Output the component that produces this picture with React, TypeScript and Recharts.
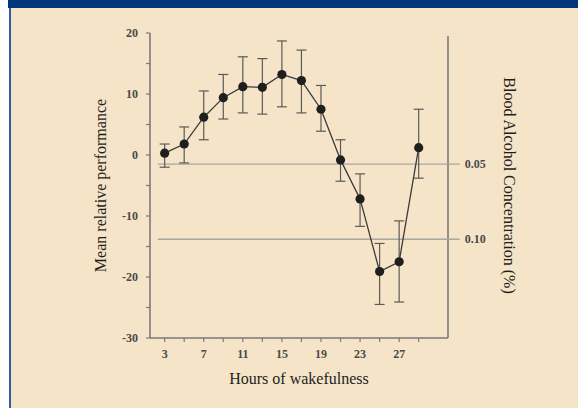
import React from "react";
import {
  ComposedChart,
  Line,
  XAxis,
  YAxis,
  ErrorBar,
  ReferenceLine,
} from "recharts";

// ─── Data ─────────────────────────────────────────────────────────────────────

const hours = [3, 5, 7, 9, 11, 13, 15, 17, 19, 21, 23, 25, 27, 29];
const means = [0.3, 1.8, 6.2, 9.4, 11.2, 11.1, 13.2, 12.2, 7.5, -0.8, -7.2, -19.1, -17.5, 1.2];
const lower = [-2.0, -1.3, 2.5, 5.9, 6.9, 6.7, 7.9, 6.9, 3.9, -4.3, -11.7, -24.5, -24.1, -3.8];
const upper = [1.8, 4.6, 10.5, 13.2, 16.1, 15.8, 18.7, 17.2, 11.4, 2.5, -3.1, -14.5, -10.8, 7.5];

const xTicks = [3, 5, 7, 9, 11, 13, 15, 17, 19, 21, 23, 25, 27, 29];
const xLabelled = [3, 7, 11, 15, 19, 23, 27];
const yTicks = [-30, -25, -20, -15, -10, -5, 0, 5, 10, 15, 20];

// blood alcohol equivalents drawn as horizontal lines
const bacLabels = ["0.05", "0.10"];
const bacLevels = [-1.5, -13.8];

// ─── Constants ────────────────────────────────────────────────────────────────

const FONT = "'Liberation Serif', 'DejaVu Serif', serif";
const AXIS = "#7a7a7a";
const BEIGE = "#f5e4c7";
const TICK = { fontSize: 12, fontWeight: 700, fill: "#4a4a4a", fontFamily: FONT };

const data = hours.map((h, i) => ({
  hour: h,
  mean: means[i],
  err: [means[i] - lower[i], upper[i] - means[i]],
}));

function Dot(props: any) {
  const { cx, cy } = props;
  if (cx == null || cy == null) return null;
  return <circle cx={cx} cy={cy} r={4.6} fill="#1f1f1f" />;
}

export default function App() {
  return (
    <div
      style={{
        position: "absolute",
        left: 0,
        top: 0,
        width: 578,
        height: 408,
        background: "#ffffff",
        overflow: "hidden",
      }}
    >
      {/* dark top band */}
      <div style={{ position: "absolute", left: 8, top: 0, width: 570, height: 8, background: "#00377a" }} />
      {/* left border line */}
      <div style={{ position: "absolute", left: 9, top: 8, width: 2, height: 400, background: "#2d5e9e" }} />
      {/* panel */}
      <div style={{ position: "absolute", left: 11, top: 8, width: 567, height: 400, background: BEIGE }} />

      <div style={{ position: "absolute", left: 0, top: 0 }}>
        <ComposedChart
          width={578}
          height={408}
          data={data}
          margin={{ top: 33, right: 6, left: 0, bottom: 0 }}
          style={{ fontFamily: FONT }}
        >
          <XAxis
            dataKey="hour"
            type="number"
            domain={[1.5, 32]}
            ticks={xTicks}
            tickFormatter={(v: number) => (xLabelled.includes(v) ? String(v) : "")}
            height={70}
            tickSize={4}
            tickMargin={7}
            axisLine={{ stroke: AXIS, strokeWidth: 1.6 }}
            tickLine={{ stroke: AXIS, strokeWidth: 1.2 }}
            tick={TICK}
            label={{
              value: "Hours of wakefulness",
              position: "center",
              dy: 5,
              style: { fontSize: 16, fill: "#1e1e1e", fontFamily: FONT },
            }}
          />
          <YAxis
            yAxisId="left"
            type="number"
            domain={[-30, 20]}
            ticks={yTicks}
            tickFormatter={(v: number) => (v % 10 === 0 ? String(v) : "")}
            width={150}
            tickSize={4}
            tickMargin={8}
            axisLine={{ stroke: AXIS, strokeWidth: 1.6 }}
            tickLine={{ stroke: AXIS, strokeWidth: 1.2 }}
            tick={TICK}
            label={{
              value: "Mean relative performance",
              angle: -90,
              position: "center",
              dx: 25,
              style: { fontSize: 16, fill: "#1e1e1e", fontFamily: FONT, textAnchor: "middle" },
            }}
          />
          <YAxis
            yAxisId="right"
            orientation="right"
            domain={[-30, 20]}
            width={124}
            tick={false}
            tickLine={false}
            axisLine={false}
            label={{
              value: "Blood Alcohol Concentration (%)",
              angle: 90,
              position: "center",
              style: { fontSize: 16, fill: "#1e1e1e", fontFamily: FONT, textAnchor: "middle" },
            }}
          />

          {/* right frame line */}
          <ReferenceLine
            yAxisId="left"
            segment={[
              { x: 32, y: -30 },
              { x: 32, y: 19.5 },
            ]}
            stroke={AXIS}
            strokeWidth={1.6}
            ifOverflow="visible"
          />

          {bacLevels.map((lvl, i) => (
            <ReferenceLine
              key={bacLabels[i]}
              yAxisId="left"
              segment={[
                { x: 2.3, y: lvl },
                { x: 33.2, y: lvl },
              ]}
              stroke="#a8a8a0"
              strokeWidth={1.4}
              ifOverflow="visible"
              label={{
                value: bacLabels[i],
                position: "right",
                offset: 5,
                style: TICK,
              }}
            />
          ))}

          <Line
            yAxisId="left"
            type="linear"
            dataKey="mean"
            stroke="#3a3a3a"
            strokeWidth={1.3}
            dot={<Dot />}
            activeDot={false}
            isAnimationActive={false}
          >
            <ErrorBar
              dataKey="err"
              direction="y"
              width={5}
              stroke="#5a5a5a"
              strokeWidth={1.2}
              isAnimationActive={false}
            />
          </Line>
        </ComposedChart>
      </div>
    </div>
  );
}
